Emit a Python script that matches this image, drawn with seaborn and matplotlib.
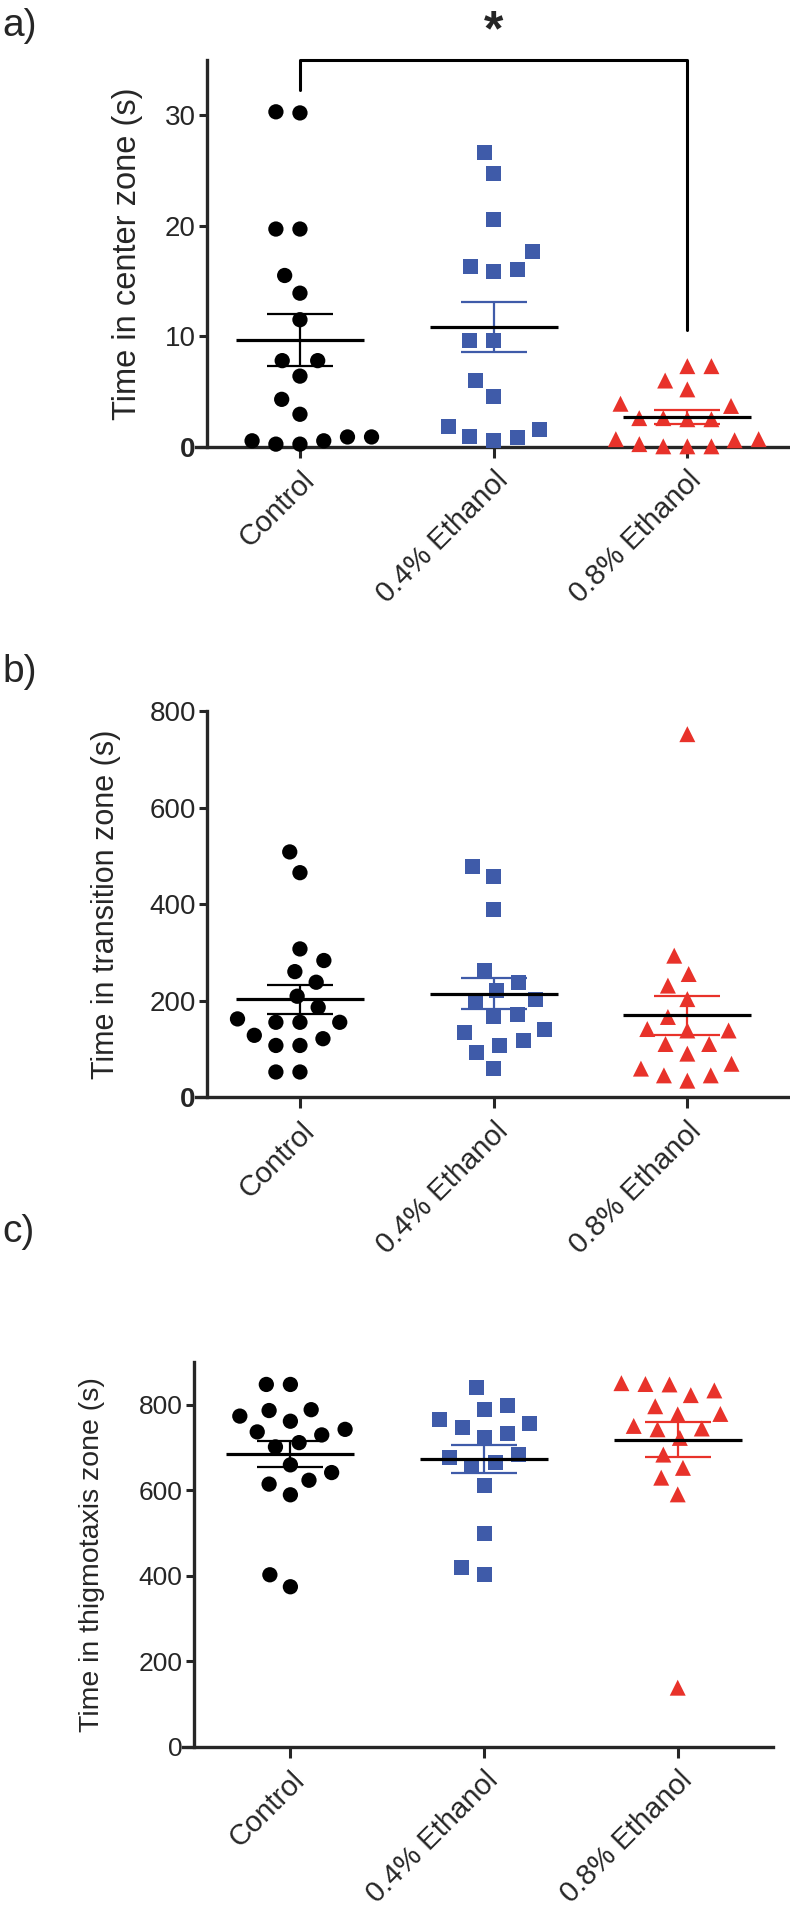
import numpy as np
import pandas as pd
import matplotlib
matplotlib.use("Agg")
import matplotlib.pyplot as plt
import seaborn as sns

sns.set_style("ticks")
plt.rcParams['font.family'] = ['Liberation Sans', 'DejaVu Sans']

# groups and styles
groups = ["Control", "0.4% Ethanol", "0.8% Ethanol"]
colors = ["#000000", "#3f5ba9", "#e8322a"]
markers = ["o", "s", "^"]

# a) time in center zone (s)
center_control = [30.2, 30.3, 19.7, 19.7, 15.5, 13.9, 11.5, 7.8, 7.8, 6.4, 4.3, 2.95,
                  0.9, 0.9, 0.55, 0.55, 0.25, 0.25]
center_eth04 = [26.6, 24.7, 20.6, 17.7, 16.3, 16.05, 15.9, 9.6, 9.6, 6.0, 4.6, 1.8,
                1.6, 0.9, 0.85, 0.6]
center_eth08 = [7.3, 7.3, 6.0, 5.2, 3.9, 3.7, 2.6, 2.5, 2.5, 2.6, 0.7, 0.6, 0.7,
                0.05, 0.05, 0.05, 0.25]

# b) time in transition zone (s)
transition_control = [508, 465, 307, 283, 260, 238, 209, 186, 155, 155, 155, 162,
                      128, 121, 107, 107, 52, 52]
transition_eth04 = [478, 457, 388, 262, 238, 221, 203, 197, 172, 166, 141, 134,
                    117, 107, 93, 59]
transition_eth08 = [752, 293, 255, 231, 203, 166, 141, 138, 138, 110, 110, 90,
                    69, 59, 45, 45, 34]

# c) time in thigmotaxis zone (s)
thigmo_control = [847, 847, 788, 786, 773, 761, 742, 736, 729, 711, 701, 659,
                  641, 623, 614, 589, 402, 374]
thigmo_eth04 = [839, 798, 788, 765, 755, 746, 732, 724, 683, 676, 664, 656,
                610, 499, 418, 402]
thigmo_eth08 = [850, 848, 847, 833, 822, 796, 778, 777, 750, 744, 742, 722,
                683, 652, 629, 590, 138]


def draw_panel(ax, values, ylim, yticks, ylabel, xlim, label_size, tick_size,
               label_x, bold_zero):
    df = pd.DataFrame({
        "group": np.repeat(groups, [len(v) for v in values]),
        "value": np.concatenate(values),
    })
    # marker size drawn, extra (invisible) edge keeps swarm spacing loose like Prism
    sizes = {"o": (11, 5.5), "s": (10.8, 5.7), "^": (11.5, 5.0)}
    for g, c, m in zip(groups, colors, markers):
        ms, pad = sizes[m]
        sns.swarmplot(data=df[df["group"] == g], x="group", y="value", order=groups,
                      color=c, marker=m, size=ms, edgecolor="none",
                      linewidth=pad, ax=ax, zorder=3)

    # drop empty collections, let the points at zero sit over the axis line
    for coll in list(ax.collections):
        if len(coll.get_offsets()) == 0:
            coll.remove()
        else:
            coll.set_clip_on(False)

    # mean +- SEM
    for i, v in enumerate(values):
        v = np.asarray(v, dtype=float)
        mean = v.mean()
        sem = v.std(ddof=1) / np.sqrt(len(v))
        ax.errorbar(i, mean, yerr=sem, color=colors[i], capsize=24, elinewidth=1.6,
                    capthick=1.6, zorder=4, clip_on=False)
        ax.hlines(mean, i - 0.33, i + 0.33, color="black", lw=2.3, zorder=5)

    ax.set_xlim(*xlim)
    ax.set_ylim(*ylim)
    ax.set_yticks(yticks)
    ax.set_xlabel("")
    ax.set_ylabel(ylabel, fontsize=label_size)
    ax.yaxis.set_label_coords(label_x, 0.5)

    sns.despine(ax=ax)
    for s in ["left", "bottom"]:
        ax.spines[s].set_linewidth(2.4)
    ax.spines["bottom"].set_bounds(xlim[0] - 0.055, xlim[1])
    ax.tick_params(axis="y", length=6, width=2.2, pad=2)
    ax.tick_params(axis="x", length=8, width=2.2, pad=6)

    ax.set_xticks(range(len(groups)))
    ax.set_xticklabels(groups, rotation=45, ha="right", va="top",
                       rotation_mode="anchor", fontsize=21)
    ax.set_yticklabels([str(t) for t in yticks], fontsize=tick_size)
    if bold_zero:
        ax.get_yticklabels()[0].set_fontweight("bold")


fig = plt.figure(figsize=(7.9, 19.18), dpi=100)

ax_a = fig.add_axes([0.262, 0.767, 0.738, 0.2018])
draw_panel(ax_a, [center_control, center_eth04, center_eth08], (0, 35), [0, 10, 20, 30],
           "Time in center zone (s)", (-0.48, 2.53), 23.5, 20, -0.11, True)
ax_a.plot([0, 0, 2, 2], [32.3, 35, 35, 10.6], color="black", lw=2.2, clip_on=False)
ax_a.text(1, 37.5, "*", ha="center", va="center", fontsize=36, fontweight="bold")

ax_b = fig.add_axes([0.262, 0.428, 0.738, 0.2013])
draw_panel(ax_b, [transition_control, transition_eth04, transition_eth08], (0, 800),
           [0, 200, 400, 600, 800], "Time in transition zone (s)", (-0.48, 2.53),
           22, 20, -0.148, True)

ax_c = fig.add_axes([0.245, 0.0893, 0.733, 0.2007])
draw_panel(ax_c, [thigmo_control, thigmo_eth04, thigmo_eth08], (0, 900),
           [0, 200, 400, 600, 800], "Time in thigmotaxis zone (s)", (-0.5, 2.49),
           20.5, 19, -0.153, False)

fig.text(0.003, 1 - 26 / 1918, "a)", fontsize=28, va="center")
fig.text(0.003, 1 - 672 / 1918, "b)", fontsize=28, va="center")
fig.text(0.003, 1 - 1232 / 1918, "c)", fontsize=28, va="center")

fig.savefig("out.png", dpi=100)
